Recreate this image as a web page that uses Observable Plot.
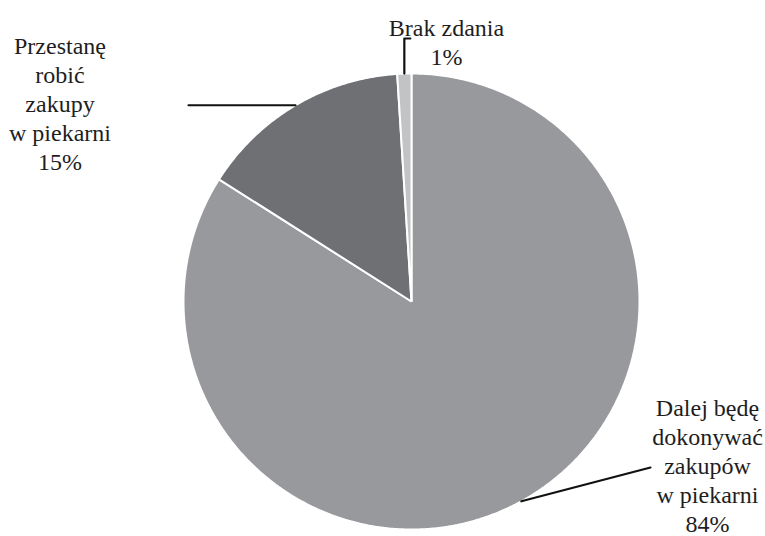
<!DOCTYPE html>
<html>
<head>
<meta charset="utf-8">
<script src="https://cdn.jsdelivr.net/npm/d3@7"></script>
<script src="https://cdn.jsdelivr.net/npm/@observablehq/plot@0.6"></script>
<style>
  html, body { margin: 0; padding: 0; background: #fff; }
  #chart svg { display: block; }
</style>
</head>
<body>
<div id="chart"></div>
<script>
// ---- data ----
const categories = ["Dalej będę\ndokonywać\nzakupów\nw piekarni", "Przestanę\nrobić\nzakupy\nw piekarni", "Brak zdania"];
const values = [84, 15, 1];
const percentLabels = ["84%", "15%", "1%"];
const colors = ["#98999d", "#6f7074", "#c2c3c5"];

// ---- layout ----
const W = 765, H = 536;
const cx = 411, cy = 301, R = 228;
// label anchors (text block centre x, top y) and leader-line end points
const labelPos = [
  {tx: 707, ty: 395, path: (p) => [p, [650, 467]]},
  {tx: 59.5, ty: 33, path: (p) => [p, [188, p[1]]]},
  {tx: 446, ty: 15, path: (p) => [p, [p[0], 38], [p[0] + 6, 38]]}
];

const total = d3.sum(values);
const slices = [];
const leaders = [];
const labels = [];
let start = 0;
values.forEach((v, i) => {
  const a0 = start / total * 2 * Math.PI;
  const a1 = (start + v) / total * 2 * Math.PI;
  start += v;
  const n = Math.max(4, Math.ceil((a1 - a0) / (Math.PI / 360)));
  slices.push({k: i, x: cx, y: cy});
  for (let j = 0; j <= n; j++) {
    const a = a0 + (a1 - a0) * j / n;
    slices.push({k: i, x: cx + R * Math.sin(a), y: cy - R * Math.cos(a)});
  }
  const am = (a0 + a1) / 2;
  const edge = [cx + R * Math.sin(am), cy - R * Math.cos(am)];
  labelPos[i].path(edge).forEach(([x, y]) => leaders.push({k: i, x, y}));
  labels.push({x: labelPos[i].tx, y: labelPos[i].ty, text: categories[i] + "\n" + percentLabels[i]});
});

const chart = Plot.plot({
  width: W,
  height: H,
  margin: 0,
  x: {domain: [0, W], range: [0, W], axis: null},
  y: {domain: [0, H], range: [0, H], axis: null},
  style: {background: "#fff"},
  marks: [
    Plot.line(slices, {
      x: "x", y: "y", z: "k",
      curve: "linear-closed",
      fill: (d) => colors[d.k],
      stroke: "#ffffff",
      strokeWidth: 2,
      strokeLinejoin: "miter"
    }),
    Plot.line(leaders, {
      x: "x", y: "y", z: "k",
      stroke: "#111",
      strokeWidth: 2.2
    }),
    Plot.text(labels, {
      x: "x", y: "y", text: "text",
      lineAnchor: "top",
      textAnchor: "middle",
      lineHeight: 1.21,
      fontSize: 24,
      fontFamily: "'Liberation Serif', 'Times New Roman', serif",
      fill: "#1e1e1e"
    })
  ]
});
document.getElementById("chart").appendChild(chart);
</script>
</body>
</html>
